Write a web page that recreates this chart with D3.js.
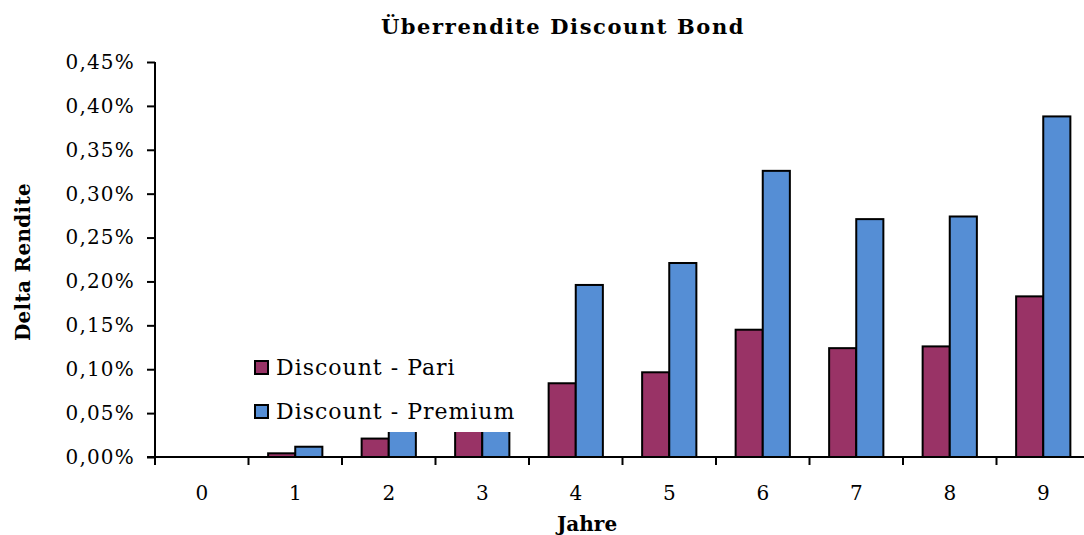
<!DOCTYPE html>
<html>
<head>
<meta charset="utf-8">
<script src="https://cdn.jsdelivr.net/npm/d3@7/dist/d3.min.js"></script>
<style>
  html, body { margin: 0; padding: 0; background: #fff; }
  svg { display: block; }
  text { font-family: "DejaVu Serif", serif; fill: #000; }
</style>
</head>
<body>
<svg id="chart" width="1084" height="535"></svg>
<script>
const categories = ["0","1","2","3","4","5","6","7","8","9"];
const seriesNames = ["Discount - Pari", "Discount - Premium"];
const pariValues    = [0, 0.0042, 0.021, 0.050, 0.084, 0.0965, 0.145, 0.124, 0.126, 0.183];
const premiumValues = [0, 0.0117, 0.055, 0.115, 0.196, 0.221, 0.326, 0.271, 0.274, 0.388];
const yTicks = [0, 0.05, 0.10, 0.15, 0.20, 0.25, 0.30, 0.35, 0.40, 0.45];
const colors = ["#993366", "#558ED5"];

(function () {
const svg = d3.select("#chart");
const W = 1084, H = 535;
const mLeft = 155, mRight = 1090, mTop = 62, mBottom = 457;

const x = d3.scaleBand().domain(categories).range([mLeft, mRight]).padding(0);
const groupFrac = 0.58;
const xs = d3.scaleBand().domain(seriesNames)
  .range([(1 - groupFrac) / 2 * x.bandwidth(), (1 + groupFrac) / 2 * x.bandwidth()]).padding(0);
const y = d3.scaleLinear().domain([0, 0.45]).range([mBottom, mTop]);

const fmt = v => v.toFixed(2).replace(".", ",") + "%";

// bars
const data = categories.map((c, i) => ({c, vals: [pariValues[i], premiumValues[i]]}));
const g = svg.append("g");
data.forEach(d => {
  d.vals.forEach((v, j) => {
    if (v <= 0) return;
    g.append("rect")
      .attr("x", x(d.c) + xs(seriesNames[j]))
      .attr("y", y(v))
      .attr("width", xs.bandwidth())
      .attr("height", y(0) - y(v))
      .attr("fill", colors[j])
      .attr("stroke", "#000")
      .attr("stroke-width", 2);
  });
});

// y axis
const yAxis = svg.append("g").attr("transform", `translate(${mLeft},0)`)
  .call(d3.axisLeft(y).tickValues(yTicks).tickFormat(fmt).tickSize(8).tickPadding(12));
yAxis.select(".domain").attr("stroke", "#000").attr("stroke-width", 2).attr("d", `M0,${mTop}V${mBottom}`);
yAxis.selectAll(".tick line").attr("stroke", "#000").attr("stroke-width", 2);
yAxis.selectAll(".tick text").attr("font-size", 20).attr("font-family", "DejaVu Serif").attr("letter-spacing", 1.2);

// x axis
const xAxis = svg.append("g").attr("transform", `translate(0,${mBottom})`)
  .call(d3.axisBottom(x).tickSize(0).tickPadding(29));
xAxis.select(".domain").attr("stroke", "#000").attr("stroke-width", 2).attr("d", `M${mLeft - 8},0H${W}`);
xAxis.selectAll(".tick text").attr("font-size", 20).attr("font-family", "DejaVu Serif");
const boundaries = categories.map(c => x(c));
xAxis.selectAll("line.bnd").data(boundaries).enter().append("line")
  .attr("class", "bnd").attr("x1", d => d).attr("x2", d => d)
  .attr("y1", 0).attr("y2", 8).attr("stroke", "#000").attr("stroke-width", 2);

// legend (opaque box covering bars)
const lg = svg.append("g");
lg.append("rect").attr("x", 249).attr("y", 348).attr("width", 276).attr("height", 84).attr("fill", "#fff");
seriesNames.forEach((s, j) => {
  const yy = 361 + j * 44;
  lg.append("rect").attr("x", 255).attr("y", yy).attr("width", 13).attr("height", 13)
    .attr("fill", colors[j]).attr("stroke", "#000").attr("stroke-width", 2);
  lg.append("text").attr("x", 276).attr("y", yy + 14).attr("font-size", 22).attr("letter-spacing", 1).text(s);
});

// titles
svg.append("text").attr("x", 563).attr("y", 34).attr("text-anchor", "middle")
  .attr("font-size", 21).attr("font-weight", "bold").attr("letter-spacing", 1.6).text("Überrendite Discount Bond");
svg.append("text").attr("x", 587).attr("y", 531).attr("text-anchor", "middle")
  .attr("font-size", 20).attr("font-weight", "bold").text("Jahre");
svg.append("text").attr("transform", "translate(30,262) rotate(-90)").attr("text-anchor", "middle")
  .attr("font-size", 20).attr("font-weight", "bold").attr("letter-spacing", 0.3).text("Delta Rendite");
})();
</script>
</body>
</html>
